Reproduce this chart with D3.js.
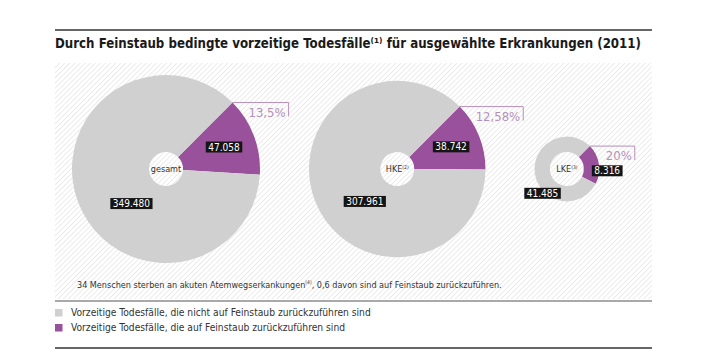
<!DOCTYPE html>
<html>
<head>
<meta charset="utf-8">
<script src="https://cdnjs.cloudflare.com/ajax/libs/d3/7.8.5/d3.min.js"></script>
<style>
  body { margin: 0; background: #fff; }
  text { font-family: "DejaVu Sans Condensed", "Open Sans", sans-serif; }
</style>
</head>
<body>
<div id="chart"></div>
<script>
// data
const categories = ['gesamt', 'HKE', 'LKE'];
const categoryNotes = ['', '(2)', '(3)'];
const totalDeaths = [349480, 307961, 41485];
const dustDeaths = [47058, 38742, 8316];
const shareLabels = ['13,5%', '12,58%', '20%'];
const legendLabels = [
  'Vorzeitige Todesfälle, die nicht auf Feinstaub zurückzuführen sind',
  'Vorzeitige Todesfälle, die auf Feinstaub zurückzuführen sind'
];

const width = 707,
      height = 354,
      frame = {left: 55, right: 652},
      grey = '#d0d0d1',
      purple = '#9a519b',
      purpleLight = '#b690b8';

const de = d3.formatLocale({decimal: ',', thousands: '.', grouping: [3], currency: ['', '€']});
const fmt = de.format(',');

const svg = d3.select('#chart').append('svg')
  .attr('width', width)
  .attr('height', height);

// hatch pattern
svg.append('defs').append('pattern')
  .attr('id', 'hatch')
  .attr('patternUnits', 'userSpaceOnUse')
  .attr('width', 3.6)
  .attr('height', 3.6)
  .attr('patternTransform', 'rotate(45)')
  .append('line')
  .attr('x1', 0).attr('y1', 0).attr('x2', 0).attr('y2', 3.6)
  .attr('stroke', '#dedede')
  .attr('stroke-width', 1.2);

// top rule + title
svg.append('line')
  .attr('x1', frame.left).attr('x2', frame.right)
  .attr('y1', 30).attr('y2', 30)
  .attr('stroke', '#333').attr('stroke-width', 1.5);

const title = svg.append('text')
  .attr('x', frame.left)
  .attr('y', 48)
  .attr('font-size', 14.5)
  .attr('font-weight', 'bold')
  .attr('fill', '#1a1a1a')
  .style('font-family', '"Liberation Sans Narrow", "DejaVu Sans Condensed", sans-serif')
  .text('Durch Feinstaub bedingte vorzeitige Todesfälle⁽¹⁾ für ausgewählte Erkrankungen (2011)');
// squeeze the title to the width of the original
const titleW = title.node().getComputedTextLength();
if (titleW > 586) {
  title.attr('textLength', 586).attr('lengthAdjust', 'spacingAndGlyphs');
}

// hatched plot area
svg.append('rect')
  .attr('x', frame.left).attr('y', 63)
  .attr('width', frame.right - frame.left).attr('height', 236)
  .attr('fill', 'url(#hatch)');

// radius proportional to total
const rScale = d3.scaleSqrt()
  .domain([0, d3.max(totalDeaths)])
  .range([0, 94]);

const holeRadius = 17,
      gap = 49,
      cy = 169;

// pack circles left to right
const centers = [];
let cursor = 72;
totalDeaths.forEach((t, i) => {
  const r = rScale(t);
  centers.push(cursor + r);
  cursor += 2 * r + gap;
});

const pie = d3.pie()
  .sort(null)
  .startAngle(Math.PI / 4)
  .endAngle(Math.PI / 4 + 2 * Math.PI);

categories.forEach((cat, i) => {
  const r = rScale(totalDeaths[i]);
  const g = svg.append('g')
    .attr('transform', `translate(${centers[i]},${cy})`);

  const slices = pie([dustDeaths[i], totalDeaths[i] - dustDeaths[i]]);
  const arc = d3.arc().innerRadius(holeRadius).outerRadius(r);

  g.selectAll('path')
    .data(slices)
    .enter()
    .append('path')
    .attr('d', arc)
    .attr('fill', (d, j) => j === 0 ? purple : grey);

  // center label
  const c = g.append('text')
    .attr('text-anchor', 'middle')
    .attr('y', 3.2)
    .attr('font-size', 9)
    .attr('fill', '#333');
  c.append('tspan').text(cat);
  if (categoryNotes[i]) {
    c.append('tspan').attr('font-size', 5).attr('dy', -3.5).text(categoryNotes[i]);
  }

  // callout for share
  const a0 = slices[0].startAngle;
  const sx = r * Math.sin(a0),
        sy = -r * Math.cos(a0);
  const share = g.append('text')
    .attr('text-anchor', 'end')
    .attr('font-size', 13)
    .attr('fill', purpleLight)
    .text(shareLabels[i]);
  const tw = share.node().getComputedTextLength();
  const ex = sx + tw + 19,
        ey = sy + 14;
  share.attr('x', ex - 3).attr('y', ey);
  g.append('path')
    .attr('d', `M${sx},${sy}H${ex}V${ey}`)
    .attr('fill', 'none')
    .attr('stroke', purpleLight)
    .attr('stroke-width', 1);

  // value labels
  const small = r < 50;
  const midP = (slices[0].startAngle + slices[0].endAngle) / 2 + (small ? 0.2 : 0);
  const dP = small ? r + 8 : 0.66 * r;
  const grayAngle = 1.25 * Math.PI;
  const dG = small ? r + 2 : 0.52 * r;
  const labels = [
    {value: dustDeaths[i], x: dP * Math.sin(midP), y: -dP * Math.cos(midP)},
    {value: totalDeaths[i], x: dG * Math.sin(grayAngle), y: -dG * Math.cos(grayAngle)}
  ];
  labels.forEach(l => {
    const lg = g.append('g').attr('transform', `translate(${l.x},${l.y})`);
    const t = lg.append('text')
      .attr('text-anchor', 'middle')
      .attr('y', 3.6)
      .attr('font-size', 10)
      .attr('fill', '#fff')
      .text(fmt(l.value));
    const w = t.node().getComputedTextLength();
    lg.insert('rect', 'text')
      .attr('x', -w / 2 - 2.5).attr('y', -5.5)
      .attr('width', w + 5).attr('height', 11)
      .attr('fill', '#151515');
  });
});

// note
const note = svg.append('text')
  .attr('x', 77).attr('y', 288)
  .attr('font-size', 9)
  .attr('fill', '#333');
note.append('tspan').text('34 Menschen sterben an akuten Atemwegserkankungen');
note.append('tspan').attr('font-size', 5).attr('dy', -4).text('(4)');
note.append('tspan').attr('dy', 4).text(', 0,6 davon sind auf Feinstaub zurückzuführen.');

// rules
svg.append('line')
  .attr('x1', frame.left).attr('x2', frame.right)
  .attr('y1', 301).attr('y2', 301)
  .attr('stroke', '#555').attr('stroke-width', 1.2);
svg.append('line')
  .attr('x1', frame.left).attr('x2', frame.right)
  .attr('y1', 348).attr('y2', 348)
  .attr('stroke', '#333').attr('stroke-width', 1.5);

// legend
const legend = svg.selectAll('.legend')
  .data(legendLabels)
  .enter()
  .append('g')
  .attr('class', 'legend')
  .attr('transform', (d, i) => `translate(${frame.left},${309 + i * 15})`);
legend.append('rect')
  .attr('width', 7.5).attr('height', 7.5)
  .attr('fill', (d, i) => i === 0 ? grey : purple);
legend.append('text')
  .attr('x', 16).attr('y', 7)
  .attr('font-size', 10.2)
  .attr('fill', '#333')
  .text(d => d);
</script>
</body>
</html>
